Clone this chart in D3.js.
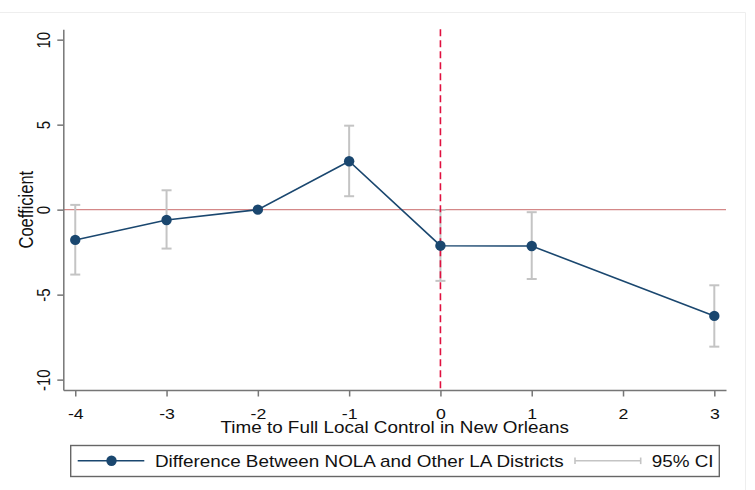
<!DOCTYPE html>
<html>
<head>
<meta charset="utf-8">
<script src="https://cdn.jsdelivr.net/npm/d3@7"></script>
<style>
  html, body { margin: 0; padding: 0; background: #fff; }
  svg { display: block; }
  text { font-family: "Liberation Sans", Arial, sans-serif; fill: #111; }
</style>
</head>
<body>
<svg id="chart" width="755" height="490"></svg>
<script>
// Event-study estimates: years relative to full local control
const periods = [-4, -3, -2, -1, 0, 1, 3];
const coef    = [-1.78, -0.61, 0, 2.85, -2.12, -2.14, -6.25];
const ciLow   = [-3.82, -2.29, 0, 0.79, -4.19, -4.08, -8.06];
const ciHigh  = [0.28, 1.14, 0, 4.94, -0.02, -0.15, -4.45];

const xTicks = [-4, -3, -2, -1, 0, 1, 2, 3];
const yTicks = [-10, -5, 0, 5, 10];
const eventTime = 0;

const xTitle = "Time to Full Local Control in New Orleans";
const yTitle = "Coefficient";
const legendSeries = "Difference Between NOLA and Other LA Districts";
const legendCI = "95% CI";

const NAVY = "#1a476f";
const CI_GREY = "#c4c4c4";
const AXIS_GREY = "#767676";
const STRETCH = 1.18;   // text is drawn slightly wide
const plain = d => String(d);   // ASCII hyphen for negatives

const svg = d3.select("#chart");

// faint outer frame
svg.append("path")
  .attr("d", "M0,12.5H745.5V490")
  .attr("fill", "none")
  .attr("stroke", "#eeeeee")
  .attr("stroke-width", 1);

const x = d3.scaleLinear().domain([-4.131, 3.128]).range([63.3, 726]);
const y = d3.scaleLinear().domain([-10.61, 10.61]).range([390, 29.3]);

// reference line at zero
svg.append("line")
  .attr("x1", x.range()[0]).attr("x2", x.range()[1])
  .attr("y1", y(0)).attr("y2", y(0))
  .attr("stroke", "#d48888").attr("stroke-width", 1.4);

// y axis
const yAxis = svg.append("g")
  .attr("transform", `translate(${x.range()[0]},0)`)
  .call(d3.axisLeft(y).tickValues(yTicks).tickSize(6).tickSizeOuter(0).tickFormat(plain));
yAxis.select(".domain").attr("stroke", AXIS_GREY).attr("stroke-width", 1.5);
yAxis.selectAll(".tick line").attr("stroke", AXIS_GREY).attr("stroke-width", 1.5);
yAxis.selectAll(".tick text")
  .attr("x", null).attr("dy", null)
  .attr("text-anchor", "middle")
  .attr("font-size", 15)
  .attr("fill", "#111")
  .attr("transform", `translate(-13.8,0) scale(${STRETCH},1) rotate(-90)`);

// x axis
const xAxis = svg.append("g")
  .attr("transform", `translate(0,${y.range()[0]})`)
  .call(d3.axisBottom(x).tickValues(xTicks).tickSize(6.5).tickSizeOuter(0).tickFormat(plain));
xAxis.select(".domain").attr("stroke", AXIS_GREY).attr("stroke-width", 1.5);
xAxis.selectAll(".tick line").attr("stroke", AXIS_GREY).attr("stroke-width", 1.5);
xAxis.selectAll(".tick text")
  .attr("y", null).attr("dy", null)
  .attr("font-size", 15)
  .attr("fill", "#111")
  .attr("transform", `translate(0,28.5) scale(${STRETCH},1)`);

// axis titles
svg.append("text")
  .attr("text-anchor", "middle")
  .attr("font-size", 16)
  .attr("transform", `translate(${(x.range()[0] + x.range()[1]) / 2},432.5) scale(${STRETCH},1)`)
  .text(xTitle);

svg.append("text")
  .attr("text-anchor", "middle")
  .attr("font-size", 16.5)
  .attr("transform", `translate(33.3,${(y.range()[0] + y.range()[1]) / 2}) scale(${STRETCH},1) rotate(-90)`)
  .text(yTitle);

// confidence intervals
const rows = periods.map((p, i) => ({ p, c: coef[i], lo: ciLow[i], hi: ciHigh[i] }));
const ci = svg.append("g").attr("stroke", CI_GREY).attr("stroke-width", 2).attr("fill", "none");
rows.forEach(d => {
  ci.append("line").attr("x1", x(d.p)).attr("x2", x(d.p)).attr("y1", y(d.lo)).attr("y2", y(d.hi));
  ci.append("line").attr("x1", x(d.p) - 5).attr("x2", x(d.p) + 5).attr("y1", y(d.lo)).attr("y2", y(d.lo));
  ci.append("line").attr("x1", x(d.p) - 5).attr("x2", x(d.p) + 5).attr("y1", y(d.hi)).attr("y2", y(d.hi));
});

// event marker
svg.append("line")
  .attr("x1", x(eventTime)).attr("x2", x(eventTime))
  .attr("y1", y.range()[1]).attr("y2", y.range()[0])
  .attr("stroke", "#e0103f").attr("stroke-width", 1.6)
  .attr("stroke-dasharray", "7,4");

// connected estimates
svg.append("path")
  .datum(rows)
  .attr("fill", "none")
  .attr("stroke", NAVY)
  .attr("stroke-width", 1.6)
  .attr("d", d3.line().x(d => x(d.p)).y(d => y(d.c)));

svg.append("g").selectAll("circle")
  .data(rows).join("circle")
  .attr("cx", d => x(d.p)).attr("cy", d => y(d.c))
  .attr("r", 5.2).attr("fill", NAVY);

// legend
const lg = svg.append("g");
lg.append("rect")
  .attr("x", 70.7).attr("y", 445.5).attr("width", 648.6).attr("height", 31)
  .attr("fill", "#fff").attr("stroke", "#666").attr("stroke-width", 1.4);
lg.append("line").attr("x1", 77.7).attr("x2", 144.3).attr("y1", 460.8).attr("y2", 460.8)
  .attr("stroke", NAVY).attr("stroke-width", 1.6);
lg.append("circle").attr("cx", 111.5).attr("cy", 460.8).attr("r", 5.2).attr("fill", NAVY);
lg.append("text").attr("font-size", 16)
  .attr("transform", `translate(155,466.8) scale(${STRETCH},1)`)
  .text(legendSeries);
const lci = lg.append("g").attr("stroke", CI_GREY).attr("stroke-width", 1.6);
lci.append("line").attr("x1", 575).attr("x2", 640.7).attr("y1", 460.8).attr("y2", 460.8);
lci.append("line").attr("x1", 575).attr("x2", 575).attr("y1", 457.5).attr("y2", 464.1);
lci.append("line").attr("x1", 640.7).attr("x2", 640.7).attr("y1", 457.5).attr("y2", 464.1);
lg.append("text").attr("font-size", 16)
  .attr("transform", `translate(651.7,466.8) scale(${STRETCH},1)`)
  .text(legendCI);
</script>
</body>
</html>
